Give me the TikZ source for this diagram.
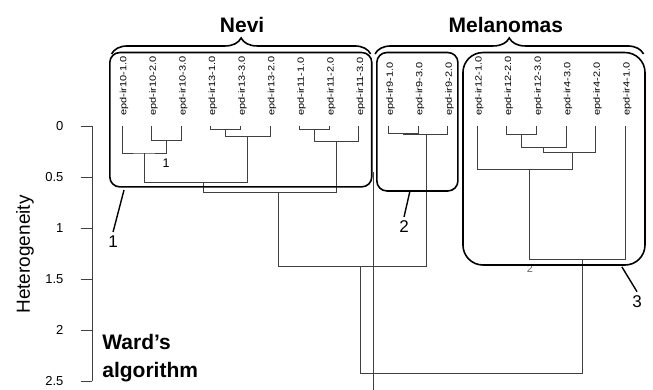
\documentclass[tikz,border=0pt]{standalone}
\usepackage{fontspec}
\setmainfont{Liberation Sans}
\usepackage{graphicx}
\usetikzlibrary{calc,decorations.pathreplacing}

\newcommand{\leaflab}[1]{\scalebox{1}[0.82]{#1}}

\begin{document}
\begin{tikzpicture}[x=29.6pt, y=-102pt,
    tree/.style={draw=black!75, line width=0.9pt},
    clusterbox/.style={draw, line width=1.6pt, rounded corners=10pt},
    callout/.style={draw, line width=1.4pt},
    brace/.style={draw, line width=1.6pt, decorate, decoration={brace, amplitude=16pt}},
    grouplab/.style={font=\fontsize{21}{28}\selectfont\bfseries},
    leaf/.style={rotate=90, anchor=west, inner sep=0pt, font=\fontsize{11}{13}\selectfont},
    ticklab/.style={anchor=east, inner sep=0pt, font=\fontsize{13}{15}\selectfont},
    bignum/.style={inner sep=4pt, font=\fontsize{17}{20}\selectfont},
    smallnum/.style={inner sep=0pt, font=\fontsize{12.5}{14}\selectfont}]
    \useasboundingbox (-3.12,-1.235) rectangle (18.94,2.588);
    % axis
    \draw[tree] (0,0) coordinate (atop) -- (0,2.5) coordinate (abot);
    \foreach \h [count=\k] in {0,0.5,1,1.5,2,2.5}{
        \coordinate (tk\k) at (-0.4,\h);
        \draw[tree] (tk\k) -- (atop |- tk\k);
        \node[ticklab] (tl\k) at (-0.97,\h) {\h};
    }
    \node[rotate=90, font=\fontsize{19}{22}\selectfont] (ylab) at (-2.28,1.26) {Heterogeneity};
    \node[grouplab, align=left, anchor=west] (ward) at (0.22,2.28) {Ward's\\algorithm};
    % leaves
    \foreach \i/\name in {1/epd-ir10-1.0, 2/epd-ir10-2.0, 3/epd-ir10-3.0, 4/epd-ir13-1.0, 5/epd-ir13-3.0, 6/epd-ir13-2.0, 7/epd-ir11-1.0, 8/epd-ir11-2.0, 9/epd-ir11-3.0, 10/epd-ir9-1.0, 11/epd-ir9-3.0, 12/epd-ir9-2.0, 13/epd-ir12-1.0, 14/epd-ir12-2.0, 15/epd-ir12-3.0, 16/epd-ir4-3.0, 17/epd-ir4-2.0, 18/epd-ir4-1.0}{
        \coordinate (l\i) at (\i,0);
        \node[leaf] (n\i) at (\i+0.07,-0.1) {\leaflab{\name}};
    }
    % merges (stem x, height)
    \coordinate (m10a) at (2.5,0.14);
    \coordinate (m10) at (1.75,0.265);
    \coordinate (m13a) at (4.5,0.03);
    \coordinate (m13) at (5.25,0.10);
    \coordinate (m1013) at (3.74,0.55);
    \coordinate (m11a) at (7.5,0.03);
    \coordinate (m11) at (8.25,0.15);
    \coordinate (mnevi) at (6.27,0.65);
    \coordinate (m9a) at (10.5,0.07);
    \coordinate (m9) at (11.27,0.085);
    \coordinate (mnv9) at (9.04,1.38);
    \coordinate (m12a) at (14.5,0.08);
    \coordinate (m12b) at (15.25,0.21);
    \coordinate (m12c) at (16.22,0.26);
    \coordinate (m12) at (14.75,0.43);
    \coordinate (mmel) at (16.54,1.31);
    \coordinate (root) at (9.48,2.43);
    \draw[tree] (l2) |- (m10a) -| (l3);
    \draw[tree] (l1) |- (m10) -| (m10a);
    \draw[tree] (l4) |- (m13a) -| (l5);
    \draw[tree] (m13a) |- (m13) -| (l6);
    \draw[tree] (m10) |- (m1013) -| (m13);
    \draw[tree] (l7) |- (m11a) -| (l8);
    \draw[tree] (m11a) |- (m11) -| (l9);
    \draw[tree] (m1013) |- (mnevi) -| (m11);
    \draw[tree] (l10) |- (m9a) -| (l11);
    \draw[tree] (m9a) |- (m9) -| (l12);
    \draw[tree] (mnevi) |- (mnv9) -| (m9);
    \draw[tree] (l14) |- (m12a) -| (l15);
    \draw[tree] (m12a) |- (m12b) -| (l16);
    \draw[tree] (m12b) |- (m12c) -| (l17);
    \draw[tree] (l13) |- (m12) -| (m12c);
    \draw[tree] (m12) |- (mmel) -| (l18);
    \draw[tree] (mnv9) |- (root) -| (mmel);
    \coordinate (rtop) at (9.48,0.45);
    \coordinate (rbot) at (9.48,2.59);
    \draw[tree] (rtop) -- (rbot);
    \node[smallnum] (s1) at (2.49,0.363) {1};
    \node[smallnum, text=black!60, font=\fontsize{11}{13}\selectfont] (s2) at (14.78,1.40) {2};
    % clusters
    \draw[clusterbox] (0.59,-0.72) rectangle (9.44,0.597);
    \draw[clusterbox] (9.61,-0.72) rectangle (12.35,0.637);
    \draw[clusterbox, rounded corners=20pt] (12.52,-0.72) rectangle (18.67,1.363);
    \draw[brace] (0.65,-0.706) -- (9.40,-0.706);
    \draw[brace] (9.55,-0.706) -- (18.62,-0.706);
    \node[grouplab] (nevi) at (5.06,-0.99) {Nevi};
    \node[grouplab] (mela) at (13.97,-0.99) {Melanomas};
    % callouts
    \node[bignum] (one) at (0.70,1.137) {1};
    \node[bignum] (two) at (10.53,0.99) {2};
    \node[bignum] (three) at (18.4,1.725) {3};
    \coordinate (c1) at (1.07,0.627);
    \coordinate (c2) at (10.73,0.637);
    \coordinate (c3) at (17.89,1.382);
    \draw[callout] (c1) -- (one.north);
    \draw[callout] (c2) -- (two.north);
    \draw[callout] (c3) -- (three.north);
\end{tikzpicture}
\end{document}
